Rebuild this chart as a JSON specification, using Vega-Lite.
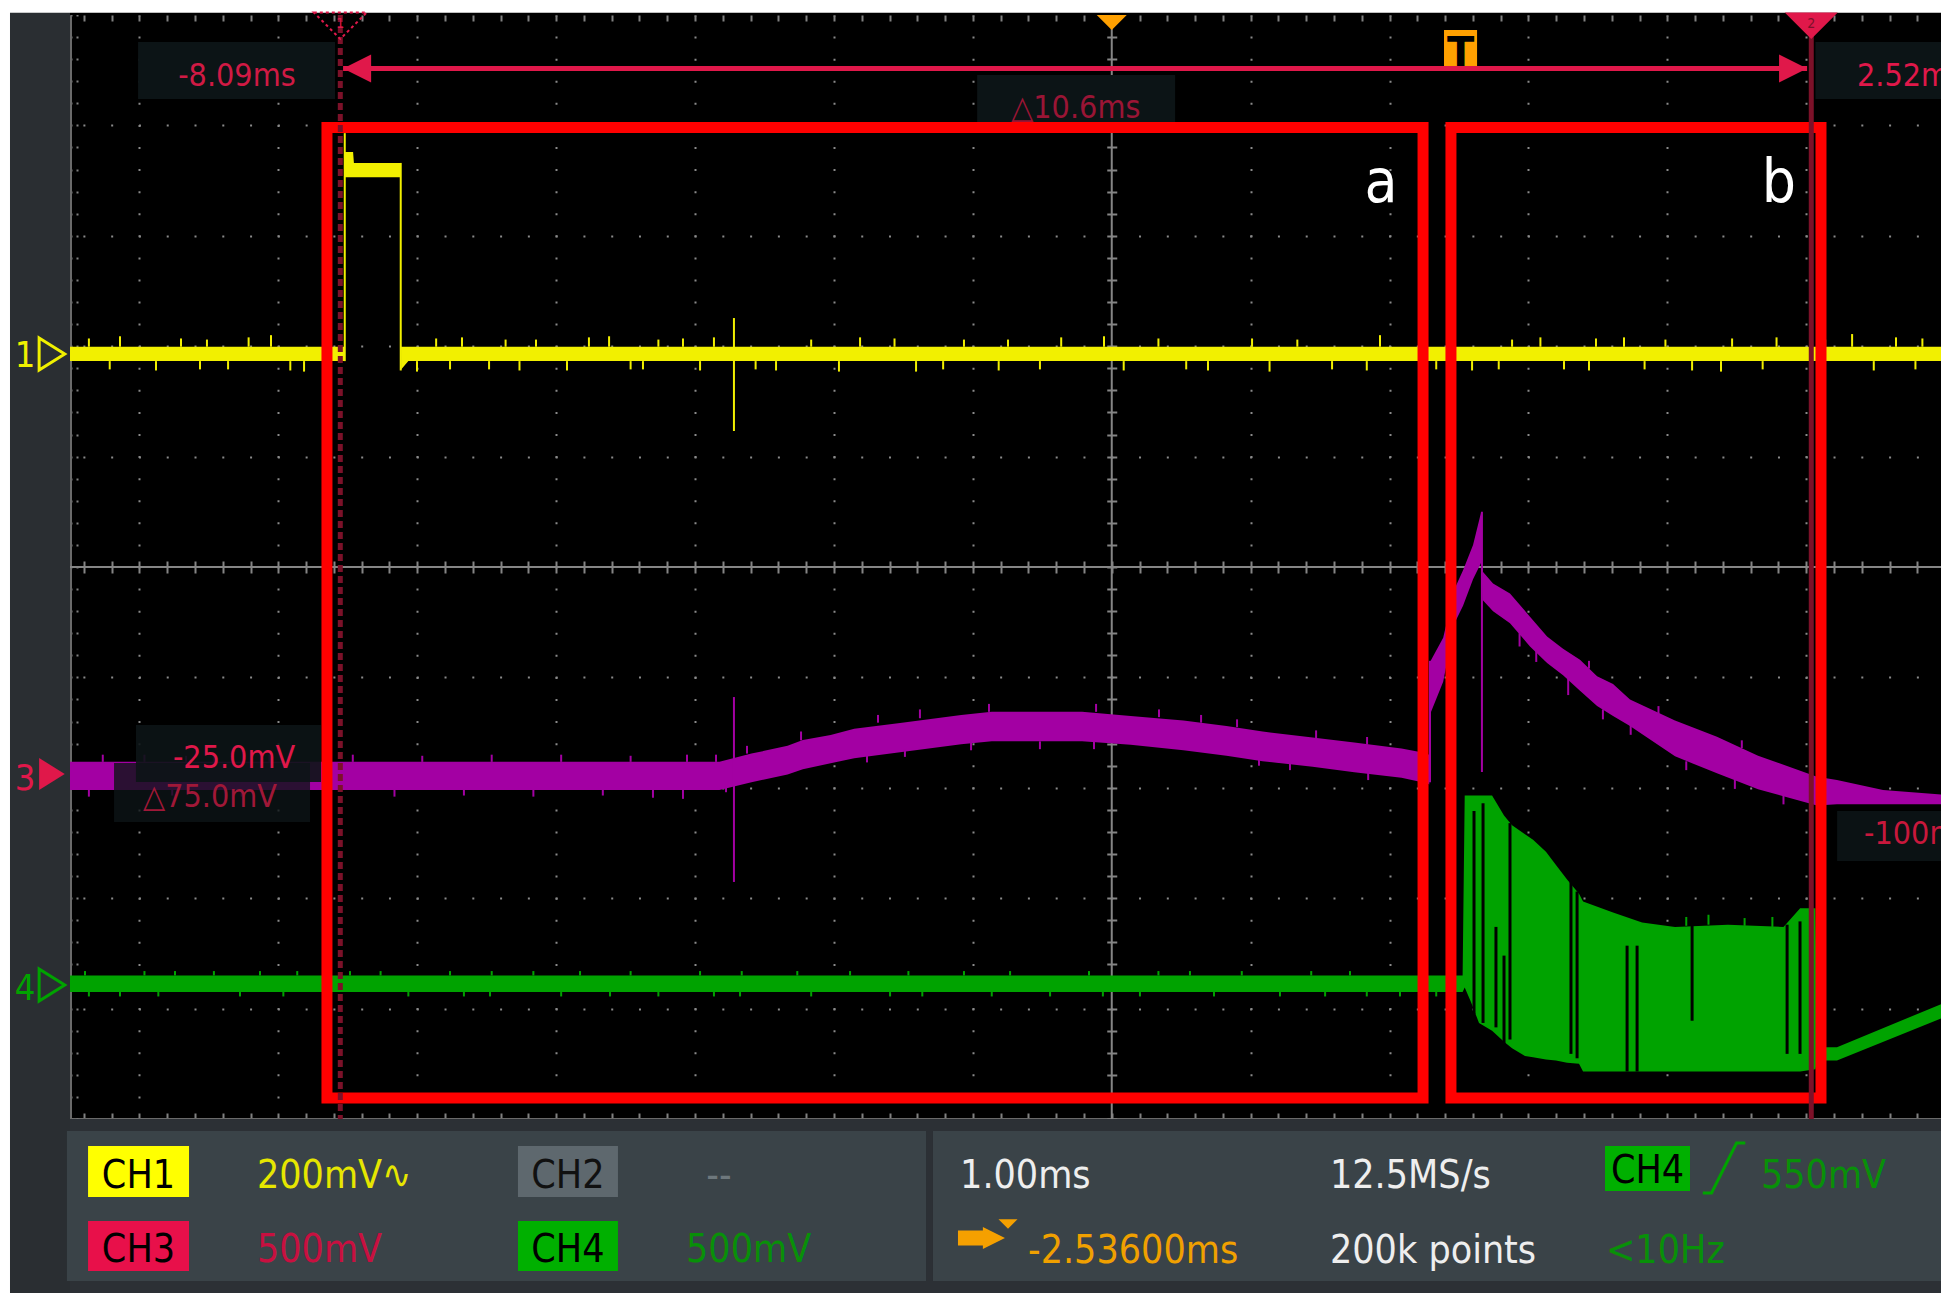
{
"$schema":"https://vega.github.io/schema/vega-lite/v6.json",
"width":1871,"height":1104,
"autosize":{"type":"none"},
"padding":{"left":70,"top":15,"right":0,"bottom":189},
"background":"#ffffff",
"view":{"fill":"#000000","stroke":null},
"config":{"text":{"font":"'DejaVu Sans Condensed', 'Liberation Sans Narrow', sans-serif"}},
"resolve":{"axis":{"x":"independent","y":"independent"}},
"data":{"values":[{}]},
"datasets":{
"env":[
{"ch":"CH1","t":-10.036,"hi":1.995,"lo":1.865},
{"ch":"CH1","t":-8.062,"hi":1.995,"lo":1.865},
{"ch":"CH1","t":-8.056,"hi":3.76,"lo":3.53},
{"ch":"CH1","t":-7.998,"hi":3.76,"lo":3.53},
{"ch":"CH1","t":-7.992,"hi":3.66,"lo":3.53},
{"ch":"CH1","t":-7.658,"hi":3.66,"lo":3.53},
{"ch":"CH1","t":-7.652,"hi":1.995,"lo":1.79},
{"ch":"CH1","t":-7.6,"hi":1.995,"lo":1.865},
{"ch":"CH1","t":3.434,"hi":1.995,"lo":1.865},
{"ch":"CH3","t":-10.036,"hi":-1.765,"lo":-2.02},
{"ch":"CH3","t":-5.36,"hi":-1.765,"lo":-2.02},
{"ch":"CH3","t":-5.13,"hi":-1.69,"lo":-1.95},
{"ch":"CH3","t":-4.87,"hi":-1.62,"lo":-1.88},
{"ch":"CH3","t":-4.76,"hi":-1.566,"lo":-1.833},
{"ch":"CH3","t":-4.56,"hi":-1.521,"lo":-1.778},
{"ch":"CH3","t":-4.39,"hi":-1.466,"lo":-1.733},
{"ch":"CH3","t":-4.06,"hi":-1.412,"lo":-1.679},
{"ch":"CH3","t":-3.62,"hi":-1.34,"lo":-1.605},
{"ch":"CH3","t":-3.4,"hi":-1.312,"lo":-1.579},
{"ch":"CH3","t":-2.75,"hi":-1.312,"lo":-1.579},
{"ch":"CH3","t":-2.4,"hi":-1.35,"lo":-1.61},
{"ch":"CH3","t":-2.02,"hi":-1.39,"lo":-1.66},
{"ch":"CH3","t":-1.71,"hi":-1.44,"lo":-1.71},
{"ch":"CH3","t":-1.45,"hi":-1.49,"lo":-1.76},
{"ch":"CH3","t":-1.09,"hi":-1.545,"lo":-1.81},
{"ch":"CH3","t":-0.79,"hi":-1.59,"lo":-1.86},
{"ch":"CH3","t":-0.45,"hi":-1.645,"lo":-1.91},
{"ch":"CH3","t":-0.26,"hi":-1.69,"lo":-1.96},
{"ch":"CH3","t":-0.25,"hi":-1.71,"lo":-1.97},
{"ch":"CH3","t":-0.24,"hi":-0.85,"lo":-1.32},
{"ch":"CH3","t":-0.15,"hi":-0.64,"lo":-1.04},
{"ch":"CH3","t":-0.065,"hi":-0.19,"lo":-0.50},
{"ch":"CH3","t":-0.007,"hi":-0.03,"lo":-0.35},
{"ch":"CH3","t":0.065,"hi":0.20,"lo":-0.11},
{"ch":"CH3","t":0.124,"hi":0.50,"lo":0.04},
{"ch":"CH3","t":0.134,"hi":-0.04,"lo":-0.30},
{"ch":"CH3","t":0.209,"hi":-0.15,"lo":-0.40},
{"ch":"CH3","t":0.331,"hi":-0.24,"lo":-0.51},
{"ch":"CH3","t":0.475,"hi":-0.45,"lo":-0.72},
{"ch":"CH3","t":0.598,"hi":-0.63,"lo":-0.87},
{"ch":"CH3","t":0.713,"hi":-0.74,"lo":-0.98},
{"ch":"CH3","t":0.835,"hi":-0.84,"lo":-1.12},
{"ch":"CH3","t":0.958,"hi":-0.99,"lo":-1.26},
{"ch":"CH3","t":1.073,"hi":-1.06,"lo":-1.35},
{"ch":"CH3","t":1.195,"hi":-1.20,"lo":-1.44},
{"ch":"CH3","t":1.519,"hi":-1.39,"lo":-1.715},
{"ch":"CH3","t":1.821,"hi":-1.537,"lo":-1.869},
{"ch":"CH3","t":2.117,"hi":-1.709,"lo":-2.014},
{"ch":"CH3","t":2.541,"hi":-1.90,"lo":-2.16},
{"ch":"CH3","t":2.685,"hi":-1.93,"lo":-2.15},
{"ch":"CH3","t":3.017,"hi":-2.02,"lo":-2.15},
{"ch":"CH3","t":3.434,"hi":-2.06,"lo":-2.15},
{"ch":"CH4","t":-10.036,"hi":-3.70,"lo":-3.85},
{"ch":"CH4","t":-0.01,"hi":-3.70,"lo":-3.85},
{"ch":"CH4","t":0.005,"hi":-2.07,"lo":-3.81},
{"ch":"CH4","t":0.05,"hi":-2.07,"lo":-3.94},
{"ch":"CH4","t":0.108,"hi":-2.07,"lo":-4.13},
{"ch":"CH4","t":0.202,"hi":-2.07,"lo":-4.20},
{"ch":"CH4","t":0.288,"hi":-2.25,"lo":-4.30},
{"ch":"CH4","t":0.346,"hi":-2.34,"lo":-4.36},
{"ch":"CH4","t":0.439,"hi":-2.42,"lo":-4.43},
{"ch":"CH4","t":0.497,"hi":-2.47,"lo":-4.44},
{"ch":"CH4","t":0.59,"hi":-2.58,"lo":-4.46},
{"ch":"CH4","t":0.662,"hi":-2.70,"lo":-4.47},
{"ch":"CH4","t":0.742,"hi":-2.83,"lo":-4.49},
{"ch":"CH4","t":0.828,"hi":-2.96,"lo":-4.50},
{"ch":"CH4","t":0.857,"hi":-3.03,"lo":-4.57},
{"ch":"CH4","t":1.073,"hi":-3.13,"lo":-4.57},
{"ch":"CH4","t":1.282,"hi":-3.22,"lo":-4.57},
{"ch":"CH4","t":1.519,"hi":-3.26,"lo":-4.57},
{"ch":"CH4","t":1.9,"hi":-3.24,"lo":-4.57},
{"ch":"CH4","t":2.3,"hi":-3.26,"lo":-4.57},
{"ch":"CH4","t":2.42,"hi":-3.09,"lo":-4.57},
{"ch":"CH4","t":2.53,"hi":-3.09,"lo":-4.55},
{"ch":"CH4","t":2.545,"hi":-4.35,"lo":-4.47},
{"ch":"CH4","t":2.685,"hi":-4.35,"lo":-4.47},
{"ch":"CH4","t":3.434,"hi":-3.96,"lo":-4.09}
],
"spikes":[
{"ch":"CH1","t":-8.058,"a":1.865,"b":3.93},
{"ch":"CH1","t":-7.655,"a":3.66,"b":1.78},
{"ch":"CH1","t":-5.256,"a":2.255,"b":1.232},
{"ch":"CH1","t":-9.9,"a":1.995,"b":2.07},
{"ch":"CH1","t":-9.676,"a":1.995,"b":2.09},
{"ch":"CH1","t":-9.237,"a":1.995,"b":2.07},
{"ch":"CH1","t":-9.05,"a":1.995,"b":2.06},
{"ch":"CH1","t":-8.75,"a":1.995,"b":2.08},
{"ch":"CH1","t":-8.589,"a":1.995,"b":2.10},
{"ch":"CH1","t":-7.4,"a":1.995,"b":2.07},
{"ch":"CH1","t":-7.214,"a":1.995,"b":2.08},
{"ch":"CH1","t":-6.9,"a":1.995,"b":2.06},
{"ch":"CH1","t":-6.681,"a":1.995,"b":2.06},
{"ch":"CH1","t":-6.3,"a":1.995,"b":2.08},
{"ch":"CH1","t":-6.155,"a":1.995,"b":2.09},
{"ch":"CH1","t":-5.8,"a":1.995,"b":2.06},
{"ch":"CH1","t":-5.623,"a":1.995,"b":2.07},
{"ch":"CH1","t":-5.4,"a":1.995,"b":2.08},
{"ch":"CH1","t":-4.7,"a":1.995,"b":2.06},
{"ch":"CH1","t":-4.348,"a":1.995,"b":2.08},
{"ch":"CH1","t":-4.1,"a":1.995,"b":2.07},
{"ch":"CH1","t":-3.6,"a":1.995,"b":2.06},
{"ch":"CH1","t":-3.283,"a":1.995,"b":2.06},
{"ch":"CH1","t":-2.9,"a":1.995,"b":2.08},
{"ch":"CH1","t":-2.592,"a":1.995,"b":2.09},
{"ch":"CH1","t":-2.2,"a":1.995,"b":2.07},
{"ch":"CH1","t":-1.526,"a":1.995,"b":2.07},
{"ch":"CH1","t":-1.2,"a":1.995,"b":2.06},
{"ch":"CH1","t":-0.605,"a":1.995,"b":2.10},
{"ch":"CH1","t":-0.3,"a":1.995,"b":2.07},
{"ch":"CH1","t":0.346,"a":1.995,"b":2.06},
{"ch":"CH1","t":0.55,"a":1.995,"b":2.08},
{"ch":"CH1","t":0.95,"a":1.995,"b":2.07},
{"ch":"CH1","t":1.152,"a":1.995,"b":2.08},
{"ch":"CH1","t":1.45,"a":1.995,"b":2.06},
{"ch":"CH1","t":1.93,"a":1.995,"b":2.07},
{"ch":"CH1","t":2.25,"a":1.995,"b":2.08},
{"ch":"CH1","t":2.6,"a":1.995,"b":2.06},
{"ch":"CH1","t":2.794,"a":1.995,"b":2.11},
{"ch":"CH1","t":3.11,"a":1.995,"b":2.08},
{"ch":"CH1","t":3.3,"a":1.995,"b":2.07},
{"ch":"CH1","t":-9.75,"a":1.865,"b":1.79},
{"ch":"CH1","t":-9.417,"a":1.865,"b":1.78},
{"ch":"CH1","t":-9.1,"a":1.865,"b":1.79},
{"ch":"CH1","t":-8.898,"a":1.865,"b":1.79},
{"ch":"CH1","t":-8.45,"a":1.865,"b":1.78},
{"ch":"CH1","t":-8.351,"a":1.865,"b":1.77},
{"ch":"CH1","t":-7.538,"a":1.865,"b":1.77},
{"ch":"CH1","t":-7.3,"a":1.865,"b":1.79},
{"ch":"CH1","t":-7.019,"a":1.865,"b":1.79},
{"ch":"CH1","t":-6.8,"a":1.865,"b":1.78},
{"ch":"CH1","t":-6.458,"a":1.865,"b":1.78},
{"ch":"CH1","t":-6.0,"a":1.865,"b":1.79},
{"ch":"CH1","t":-5.911,"a":1.865,"b":1.79},
{"ch":"CH1","t":-5.5,"a":1.865,"b":1.78},
{"ch":"CH1","t":-5.1,"a":1.865,"b":1.79},
{"ch":"CH1","t":-4.953,"a":1.865,"b":1.78},
{"ch":"CH1","t":-4.5,"a":1.865,"b":1.77},
{"ch":"CH1","t":-3.945,"a":1.865,"b":1.77},
{"ch":"CH1","t":-3.75,"a":1.865,"b":1.79},
{"ch":"CH1","t":-3.35,"a":1.865,"b":1.78},
{"ch":"CH1","t":-3.053,"a":1.865,"b":1.79},
{"ch":"CH1","t":-2.45,"a":1.865,"b":1.78},
{"ch":"CH1","t":-2.0,"a":1.865,"b":1.79},
{"ch":"CH1","t":-1.843,"a":1.865,"b":1.78},
{"ch":"CH1","t":-1.4,"a":1.865,"b":1.77},
{"ch":"CH1","t":-0.95,"a":1.865,"b":1.79},
{"ch":"CH1","t":-0.7,"a":1.865,"b":1.78},
{"ch":"CH1","t":-0.2,"a":1.865,"b":1.79},
{"ch":"CH1","t":0.058,"a":1.865,"b":1.78},
{"ch":"CH1","t":0.25,"a":1.865,"b":1.79},
{"ch":"CH1","t":0.72,"a":1.865,"b":1.79},
{"ch":"CH1","t":0.9,"a":1.865,"b":1.78},
{"ch":"CH1","t":1.3,"a":1.865,"b":1.79},
{"ch":"CH1","t":1.642,"a":1.865,"b":1.78},
{"ch":"CH1","t":1.85,"a":1.865,"b":1.77},
{"ch":"CH1","t":2.15,"a":1.865,"b":1.79},
{"ch":"CH1","t":2.563,"a":1.865,"b":1.77},
{"ch":"CH1","t":2.95,"a":1.865,"b":1.78},
{"ch":"CH1","t":3.25,"a":1.865,"b":1.79},
{"ch":"CH3","t":-5.256,"a":-1.178,"b":-2.853},
{"ch":"CH3","t":0.129,"a":0.50,"b":-1.857},
{"ch":"CH3","t":-0.245,"a":-1.95,"b":-0.85},
{"ch":"CH3","t":-9.8,"a":-1.765,"b":-1.70},
{"ch":"CH3","t":-9.5,"a":-1.765,"b":-1.70},
{"ch":"CH3","t":-9.2,"a":-1.765,"b":-1.71},
{"ch":"CH3","t":-9.0,"a":-1.765,"b":-1.71},
{"ch":"CH3","t":-8.6,"a":-1.765,"b":-1.70},
{"ch":"CH3","t":-8.0,"a":-1.765,"b":-1.70},
{"ch":"CH3","t":-7.5,"a":-1.765,"b":-1.71},
{"ch":"CH3","t":-7.0,"a":-1.765,"b":-1.70},
{"ch":"CH3","t":-6.5,"a":-1.765,"b":-1.70},
{"ch":"CH3","t":-6.0,"a":-1.765,"b":-1.71},
{"ch":"CH3","t":-5.594,"a":-1.765,"b":-1.70},
{"ch":"CH3","t":-5.385,"a":-1.765,"b":-1.70},
{"ch":"CH3","t":-5.162,"a":-1.69,"b":-1.62},
{"ch":"CH3","t":-4.773,"a":-1.57,"b":-1.49},
{"ch":"CH3","t":-4.219,"a":-1.41,"b":-1.34},
{"ch":"CH3","t":-3.917,"a":-1.37,"b":-1.29},
{"ch":"CH3","t":-3.42,"a":-1.312,"b":-1.24},
{"ch":"CH3","t":-2.649,"a":-1.312,"b":-1.24},
{"ch":"CH3","t":-2.196,"a":-1.36,"b":-1.29},
{"ch":"CH3","t":-1.893,"a":-1.41,"b":-1.34},
{"ch":"CH3","t":-1.634,"a":-1.45,"b":-1.38},
{"ch":"CH3","t":-1.065,"a":-1.55,"b":-1.48},
{"ch":"CH3","t":-0.698,"a":-1.61,"b":-1.54},
{"ch":"CH3","t":-9.9,"a":-2.02,"b":-2.08},
{"ch":"CH3","t":-9.3,"a":-2.02,"b":-2.07},
{"ch":"CH3","t":-8.8,"a":-2.02,"b":-2.08},
{"ch":"CH3","t":-8.2,"a":-2.02,"b":-2.07},
{"ch":"CH3","t":-7.7,"a":-2.02,"b":-2.08},
{"ch":"CH3","t":-7.2,"a":-2.02,"b":-2.07},
{"ch":"CH3","t":-6.7,"a":-2.02,"b":-2.08},
{"ch":"CH3","t":-6.2,"a":-2.02,"b":-2.07},
{"ch":"CH3","t":-5.839,"a":-2.02,"b":-2.09},
{"ch":"CH3","t":-5.623,"a":-2.02,"b":-2.10},
{"ch":"CH3","t":-5.313,"a":-1.977,"b":-2.04},
{"ch":"CH3","t":-4.298,"a":-1.70,"b":-1.77},
{"ch":"CH3","t":-4.025,"a":-1.65,"b":-1.72},
{"ch":"CH3","t":-3.549,"a":-1.59,"b":-1.66},
{"ch":"CH3","t":-3.053,"a":-1.579,"b":-1.65},
{"ch":"CH3","t":-2.664,"a":-1.579,"b":-1.65},
{"ch":"CH3","t":-1.476,"a":-1.73,"b":-1.80},
{"ch":"CH3","t":-1.253,"a":-1.77,"b":-1.84},
{"ch":"CH3","t":-0.69,"a":-1.86,"b":-1.93},
{"ch":"CH3","t":0.4,"a":-0.60,"b":-0.72},
{"ch":"CH3","t":0.52,"a":-0.76,"b":-0.86},
{"ch":"CH3","t":0.75,"a":-0.95,"b":-1.16},
{"ch":"CH3","t":0.9,"a":-0.92,"b":-0.85},
{"ch":"CH3","t":1.0,"a":-1.29,"b":-1.38},
{"ch":"CH3","t":1.2,"a":-1.42,"b":-1.52},
{"ch":"CH3","t":1.4,"a":-1.33,"b":-1.26},
{"ch":"CH3","t":1.6,"a":-1.76,"b":-1.84},
{"ch":"CH3","t":1.95,"a":-1.91,"b":-2.01},
{"ch":"CH3","t":2.0,"a":-1.64,"b":-1.57},
{"ch":"CH3","t":2.3,"a":-2.07,"b":-2.15},
{"ch":"CH4","t":-9.928,"a":-3.70,"b":-3.66},
{"ch":"CH4","t":-9.5,"a":-3.70,"b":-3.66},
{"ch":"CH4","t":-9.28,"a":-3.70,"b":-3.66},
{"ch":"CH4","t":-9.0,"a":-3.70,"b":-3.66},
{"ch":"CH4","t":-8.668,"a":-3.70,"b":-3.66},
{"ch":"CH4","t":-8.4,"a":-3.70,"b":-3.66},
{"ch":"CH4","t":-8.02,"a":-3.70,"b":-3.66},
{"ch":"CH4","t":-7.8,"a":-3.70,"b":-3.66},
{"ch":"CH4","t":-7.3,"a":-3.70,"b":-3.66},
{"ch":"CH4","t":-7.0,"a":-3.70,"b":-3.66},
{"ch":"CH4","t":-6.7,"a":-3.70,"b":-3.66},
{"ch":"CH4","t":-6.364,"a":-3.70,"b":-3.66},
{"ch":"CH4","t":-6.0,"a":-3.70,"b":-3.66},
{"ch":"CH4","t":-5.5,"a":-3.70,"b":-3.66},
{"ch":"CH4","t":-5.2,"a":-3.70,"b":-3.66},
{"ch":"CH4","t":-4.8,"a":-3.70,"b":-3.66},
{"ch":"CH4","t":-4.42,"a":-3.70,"b":-3.66},
{"ch":"CH4","t":-4.0,"a":-3.70,"b":-3.66},
{"ch":"CH4","t":-3.6,"a":-3.70,"b":-3.66},
{"ch":"CH4","t":-3.268,"a":-3.70,"b":-3.66},
{"ch":"CH4","t":-2.7,"a":-3.70,"b":-3.66},
{"ch":"CH4","t":-2.2,"a":-3.70,"b":-3.66},
{"ch":"CH4","t":-1.973,"a":-3.70,"b":-3.66},
{"ch":"CH4","t":-1.6,"a":-3.70,"b":-3.66},
{"ch":"CH4","t":-1.1,"a":-3.70,"b":-3.66},
{"ch":"CH4","t":-0.821,"a":-3.70,"b":-3.66},
{"ch":"CH4","t":-0.3,"a":-3.70,"b":-3.66},
{"ch":"CH4","t":-9.9,"a":-3.85,"b":-3.89},
{"ch":"CH4","t":-9.676,"a":-3.85,"b":-3.89},
{"ch":"CH4","t":-9.4,"a":-3.85,"b":-3.89},
{"ch":"CH4","t":-8.812,"a":-3.85,"b":-3.89},
{"ch":"CH4","t":-8.5,"a":-3.85,"b":-3.89},
{"ch":"CH4","t":-8.164,"a":-3.85,"b":-3.89},
{"ch":"CH4","t":-7.6,"a":-3.85,"b":-3.89},
{"ch":"CH4","t":-7.2,"a":-3.85,"b":-3.89},
{"ch":"CH4","t":-7.012,"a":-3.85,"b":-3.89},
{"ch":"CH4","t":-6.5,"a":-3.85,"b":-3.89},
{"ch":"CH4","t":-6.148,"a":-3.85,"b":-3.89},
{"ch":"CH4","t":-5.8,"a":-3.85,"b":-3.89},
{"ch":"CH4","t":-5.4,"a":-3.85,"b":-3.89},
{"ch":"CH4","t":-5.212,"a":-3.85,"b":-3.89},
{"ch":"CH4","t":-4.7,"a":-3.85,"b":-3.89},
{"ch":"CH4","t":-4.132,"a":-3.85,"b":-3.89},
{"ch":"CH4","t":-3.9,"a":-3.85,"b":-3.89},
{"ch":"CH4","t":-3.4,"a":-3.85,"b":-3.89},
{"ch":"CH4","t":-2.98,"a":-3.85,"b":-3.89},
{"ch":"CH4","t":-2.6,"a":-3.85,"b":-3.89},
{"ch":"CH4","t":-2.333,"a":-3.85,"b":-3.89},
{"ch":"CH4","t":-1.8,"a":-3.85,"b":-3.89},
{"ch":"CH4","t":-1.325,"a":-3.85,"b":-3.89},
{"ch":"CH4","t":-1.0,"a":-3.85,"b":-3.89},
{"ch":"CH4","t":-0.7,"a":-3.85,"b":-3.89},
{"ch":"CH4","t":-0.461,"a":-3.85,"b":-3.89},
{"ch":"CH4","t":-0.2,"a":-3.85,"b":-3.89},
{"ch":"CH4","t":1.6,"a":-3.25,"b":-3.17},
{"ch":"CH4","t":1.76,"a":-3.24,"b":-3.15},
{"ch":"CH4","t":2.02,"a":-3.25,"b":-3.18},
{"ch":"CH4","t":2.22,"a":-3.26,"b":-3.17}
],
"gaps":[
{"t":0.072,"a":-2.21,"b":-4.05},
{"t":0.137,"a":-2.14,"b":-4.13},
{"t":0.23,"a":-3.26,"b":-4.17},
{"t":0.288,"a":-3.52,"b":-4.34},
{"t":0.331,"a":-2.32,"b":-4.28},
{"t":0.77,"a":-2.83,"b":-4.41},
{"t":0.814,"a":-2.94,"b":-4.45},
{"t":1.174,"a":-3.43,"b":-4.57},
{"t":1.246,"a":-3.43,"b":-4.57},
{"t":1.642,"a":-3.24,"b":-4.11},
{"t":2.326,"a":-3.24,"b":-4.41},
{"t":2.419,"a":-3.21,"b":-4.41}
],
"boxes":[
{"label":"a","t0":-8.186,"t1":-0.295,"top":3.981,"bottom":-4.81},
{"label":"b","t0":-0.094,"t1":2.57,"top":3.981,"bottom":-4.81}
],
"cursors":[
{"id":"1","t":-8.09},
{"id":"2","t":2.50}
]
},
"layer":[
{"mark":{"type":"rect","color":"#000000","clip":false},"encoding":{"x":{"datum":-10.036,"type":"quantitative","scale":{"domain":[-10.036,3.434],"nice":false,"zero":false},"axis":null},"x2":{"datum":3.44},"y":{"datum":5.0,"type":"quantitative","scale":{"domain":[-5,5],"nice":false,"zero":false},"axis":null},"y2":{"datum":5.02}}},
{"mark":{"type":"rect","color":"#2a2e32","clip":false},"encoding":{"x":{"datum":-10.468,"type":"quantitative","scale":{"domain":[-10.036,3.434],"nice":false,"zero":false},"axis":null},"x2":{"datum":-10.036},"y":{"datum":5.02,"type":"quantitative","scale":{"domain":[-5,5],"nice":false,"zero":false},"axis":null},"y2":{"datum":-6.576}}},
{"mark":{"type":"rect","color":"#2c3035","clip":false},"encoding":{"x":{"datum":-10.036,"type":"quantitative","scale":{"domain":[-10.036,3.434],"nice":false,"zero":false},"axis":null},"x2":{"datum":3.44},"y":{"datum":-5.0,"type":"quantitative","scale":{"domain":[-5,5],"nice":false,"zero":false},"axis":null},"y2":{"datum":-6.576}}},
{"mark":{"type":"rect","color":"#3a4348","clip":false},"encoding":{"x":{"datum":-10.058,"type":"quantitative","scale":{"domain":[-10.036,3.434],"nice":false,"zero":false},"axis":null},"x2":{"datum":-3.873},"y":{"datum":-5.109,"type":"quantitative","scale":{"domain":[-5,5],"nice":false,"zero":false},"axis":null},"y2":{"datum":-6.467}}},
{"mark":{"type":"rect","color":"#3a4348","clip":false},"encoding":{"x":{"datum":-3.823,"type":"quantitative","scale":{"domain":[-10.036,3.434],"nice":false,"zero":false},"axis":null},"x2":{"datum":3.44},"y":{"datum":-5.109,"type":"quantitative","scale":{"domain":[-5,5],"nice":false,"zero":false},"axis":null},"y2":{"datum":-6.467}}},
{"mark":{"type":"rule","color":"#858585","strokeWidth":2},"encoding":{"x":{"datum":-2.536,"type":"quantitative","scale":{"domain":[-10.036,3.434],"nice":false,"zero":false},"axis":{"orient":"bottom","offset":-558,"values":[-9.936,-9.736,-9.536,-9.336,-9.136,-8.936,-8.736,-8.536,-8.336,-8.136,-7.936,-7.736,-7.536,-7.336,-7.136,-6.936,-6.736,-6.536,-6.336,-6.136,-5.936,-5.736,-5.536,-5.336,-5.136,-4.936,-4.736,-4.536,-4.336,-4.136,-3.936,-3.736,-3.536,-3.336,-3.136,-2.936,-2.736,-2.536,-2.336,-2.136,-1.936,-1.736,-1.536,-1.336,-1.136,-0.936,-0.736,-0.536,-0.336,-0.136,0.064,0.264,0.464,0.664,0.864,1.064,1.264,1.464,1.664,1.864,2.064,2.264,2.464,2.664,2.864,3.064,3.264],"domain":false,"grid":false,"labels":false,"ticks":true,"tickSize":12,"tickColor":"#858585","tickWidth":2,"title":null}}}},
{"mark":{"type":"rule","color":"#858585","strokeWidth":2},"encoding":{"y":{"datum":0,"type":"quantitative","scale":{"domain":[-5,5],"nice":false,"zero":false},"axis":{"orient":"left","offset":-1046.75,"values":[-5,-4.8,-4.6,-4.4,-4.2,-4,-3.8,-3.6,-3.4,-3.2,-3,-2.8,-2.6,-2.4,-2.2,-2,-1.8,-1.6,-1.4,-1.2,-1,-0.8,-0.6,-0.4,-0.2,0,0.2,0.4,0.6,0.8,1,1.2,1.4,1.6,1.8,2,2.2,2.4,2.6,2.8,3,3.2,3.4,3.6,3.8,4,4.2,4.4,4.6,4.8,5],"domain":false,"grid":false,"labels":false,"ticks":true,"tickSize":10,"tickColor":"#858585","tickWidth":2,"title":null}}}},
{"data":{"name":"env"},"mark":{"type":"area","interpolate":"linear","opacity":1},"encoding":{
"x":{"field":"t","type":"quantitative","scale":{"domain":[-10.036,3.434],"nice":false,"zero":false},"axis":{"orient":"bottom","values":[-9.536,-8.536,-7.536,-6.536,-5.536,-4.536,-3.536,-1.536,-0.536,0.464,1.464,2.464],"grid":true,"gridColor":"#8a8a8a","gridWidth":2,"gridDash":[2,20.08],"gridDashOffset":1,"domain":false,"ticks":false,"labels":false,"title":null}},
"y":{"field":"hi","type":"quantitative","stack":null,"scale":{"domain":[-5,5],"nice":false,"zero":false},"axis":{"orient":"left","values":[-4,-3,-2,-1,1,2,3,4],"grid":true,"gridColor":"#8a8a8a","gridWidth":2,"gridDash":[2,25.78],"gridDashOffset":14.89,"domain":false,"ticks":false,"labels":false,"title":null}},
"y2":{"field":"lo"},
"color":{"field":"ch","type":"nominal","scale":{"domain":["CH1","CH3","CH4"],"range":["#f2f000","#a300a3","#00a300"]},"legend":null}}},
{"data":{"name":"spikes"},"mark":{"type":"rule","strokeWidth":2},"encoding":{
"x":{"field":"t","type":"quantitative","scale":{"domain":[-10.036,3.434],"nice":false,"zero":false},"axis":{"orient":"top","values":[-9.936,-9.736,-9.536,-9.336,-9.136,-8.936,-8.736,-8.536,-8.336,-8.136,-7.936,-7.736,-7.536,-7.336,-7.136,-6.936,-6.736,-6.536,-6.336,-6.136,-5.936,-5.736,-5.536,-5.336,-5.136,-4.936,-4.736,-4.536,-4.336,-4.136,-3.936,-3.736,-3.536,-3.336,-3.136,-2.936,-2.736,-2.536,-2.336,-2.136,-1.936,-1.736,-1.536,-1.336,-1.136,-0.936,-0.736,-0.536,-0.336,-0.136,0.064,0.264,0.464,0.664,0.864,1.064,1.264,1.464,1.664,1.864,2.064,2.264,2.464,2.664,2.864,3.064,3.264],"domain":false,"grid":false,"labels":false,"ticks":true,"tickSize":-6,"tickColor":"#808080","tickWidth":2,"title":null}},
"y":{"field":"a","type":"quantitative","scale":{"domain":[-5,5],"nice":false,"zero":false},"axis":{"orient":"left","values":[-5,-4.8,-4.6,-4.4,-4.2,-4,-3.8,-3.6,-3.4,-3.2,-3,-2.8,-2.6,-2.4,-2.2,-2,-1.8,-1.6,-1.4,-1.2,-1,-0.8,-0.6,-0.4,-0.2,0,0.2,0.4,0.6,0.8,1,1.2,1.4,1.6,1.8,2,2.2,2.4,2.6,2.8,3,3.2,3.4,3.6,3.8,4,4.2,4.4,4.6,4.8,5],"domain":true,"domainColor":"#6a6a6a","domainWidth":3,"grid":false,"labels":false,"ticks":true,"tickSize":-12,"tickColor":"#808080","tickWidth":2,"tickDash":[2,4],"title":null}},
"y2":{"field":"b"},
"color":{"field":"ch","type":"nominal","scale":{"domain":["CH1","CH3","CH4"],"range":["#f2f000","#a300a3","#00a300"]},"legend":null}}},
{"data":{"name":"gaps"},"mark":{"type":"rule","strokeWidth":3,"color":"#000000"},"encoding":{
"x":{"field":"t","type":"quantitative","scale":{"domain":[-10.036,3.434],"nice":false,"zero":false},"axis":{"orient":"bottom","values":[-9.936,-9.736,-9.536,-9.336,-9.136,-8.936,-8.736,-8.536,-8.336,-8.136,-7.936,-7.736,-7.536,-7.336,-7.136,-6.936,-6.736,-6.536,-6.336,-6.136,-5.936,-5.736,-5.536,-5.336,-5.136,-4.936,-4.736,-4.536,-4.336,-4.136,-3.936,-3.736,-3.536,-3.336,-3.136,-2.936,-2.736,-2.536,-2.336,-2.136,-1.936,-1.736,-1.536,-1.336,-1.136,-0.936,-0.736,-0.536,-0.336,-0.136,0.064,0.264,0.464,0.664,0.864,1.064,1.264,1.464,1.664,1.864,2.064,2.264,2.464,2.664,2.864,3.064,3.264],"domain":true,"domainColor":"#6a6a6a","domainWidth":3,"grid":false,"labels":false,"ticks":true,"tickSize":-6,"tickColor":"#808080","tickWidth":2,"title":null}},
"y":{"field":"a","type":"quantitative","scale":{"domain":[-5,5],"nice":false,"zero":false},"axis":null},
"y2":{"field":"b"}}},
{"data":{"name":"boxes"},"mark":{"type":"rect","fill":"transparent","stroke":"#ff0000","strokeWidth":11},"encoding":{
"x":{"field":"t0","type":"quantitative","scale":{"domain":[-10.036,3.434],"nice":false,"zero":false},"axis":null},"x2":{"field":"t1"},
"y":{"field":"top","type":"quantitative","scale":{"domain":[-5,5],"nice":false,"zero":false},"axis":null},"y2":{"field":"bottom"}}},
{"data":{"name":"boxes"},"mark":{"type":"text","color":"#ffffff","fontSize":60,"align":"center","baseline":"alphabetic","dx":-42,"dy":74.5},"encoding":{
"x":{"field":"t1","type":"quantitative","scale":{"domain":[-10.036,3.434],"nice":false,"zero":false},"axis":null},
"y":{"field":"top","type":"quantitative","scale":{"domain":[-5,5],"nice":false,"zero":false},"axis":null},
"text":{"field":"label"}}},
{"data":{"name":"cursors"},"mark":{"type":"rule","color":"#7c1129","strokeWidth":5},"encoding":{
"x":{"field":"t","type":"quantitative","scale":{"domain":[-10.036,3.434],"nice":false,"zero":false},"axis":null},
"strokeDash":{"field":"id","type":"nominal","scale":{"domain":["1","2"],"range":[[7,4],[1,0]]},"legend":null}}},
{"mark":{"type":"rect","color":"#0c1416"},"encoding":{"x":{"datum":-9.546,"type":"quantitative","scale":{"domain":[-10.036,3.434],"nice":false,"zero":false},"axis":null},"x2":{"datum":-8.128},"y":{"datum":4.755,"type":"quantitative","scale":{"domain":[-5,5],"nice":false,"zero":false},"axis":null},"y2":{"datum":4.239}}},
{"mark":{"type":"rect","color":"#0c1416"},"encoding":{"x":{"datum":-3.505,"type":"quantitative","scale":{"domain":[-10.036,3.434],"nice":false,"zero":false},"axis":null},"x2":{"datum":-2.08},"y":{"datum":4.457,"type":"quantitative","scale":{"domain":[-5,5],"nice":false,"zero":false},"axis":null},"y2":{"datum":4.031}}},
{"mark":{"type":"rect","color":"#0c1416"},"encoding":{"x":{"datum":2.53,"type":"quantitative","scale":{"domain":[-10.036,3.434],"nice":false,"zero":false},"axis":null},"x2":{"datum":3.44},"y":{"datum":4.755,"type":"quantitative","scale":{"domain":[-5,5],"nice":false,"zero":false},"axis":null},"y2":{"datum":4.239}}},
{"mark":{"type":"rect","color":"#0c1416","opacity":0.8},"encoding":{"x":{"datum":-9.719,"type":"quantitative","scale":{"domain":[-10.036,3.434],"nice":false,"zero":false},"axis":null},"x2":{"datum":-8.308},"y":{"datum":-1.775,"type":"quantitative","scale":{"domain":[-5,5],"nice":false,"zero":false},"axis":null},"y2":{"datum":-2.31}}},
{"mark":{"type":"rect","color":"#0c1416","opacity":0.9},"encoding":{"x":{"datum":-9.561,"type":"quantitative","scale":{"domain":[-10.036,3.434],"nice":false,"zero":false},"axis":null},"x2":{"datum":-8.229},"y":{"datum":-1.431,"type":"quantitative","scale":{"domain":[-5,5],"nice":false,"zero":false},"axis":null},"y2":{"datum":-1.947}}},
{"mark":{"type":"rect","color":"#0c1416","opacity":0.9},"encoding":{"x":{"datum":2.686,"type":"quantitative","scale":{"domain":[-10.036,3.434],"nice":false,"zero":false},"axis":null},"x2":{"datum":3.44},"y":{"datum":-2.21,"type":"quantitative","scale":{"domain":[-5,5],"nice":false,"zero":false},"axis":null},"y2":{"datum":-2.663}}},
{"mark":{"type":"text","text":"-8.09ms","color":"#d01a44","fontSize":32,"align":"center","baseline":"alphabetic"},"encoding":{"x":{"datum":-8.834,"type":"quantitative","scale":{"domain":[-10.036,3.434],"nice":false,"zero":false},"axis":null},"y":{"datum":4.357,"type":"quantitative","scale":{"domain":[-5,5],"nice":false,"zero":false},"axis":null}}},
{"mark":{"type":"text","text":"△10.6ms","color":"#9a1535","fontSize":32,"align":"center","baseline":"alphabetic"},"encoding":{"x":{"datum":-2.795,"type":"quantitative","scale":{"domain":[-10.036,3.434],"nice":false,"zero":false},"axis":null},"y":{"datum":4.067,"type":"quantitative","scale":{"domain":[-5,5],"nice":false,"zero":false},"axis":null}}},
{"mark":{"type":"text","text":"2.52ms","color":"#e0184a","fontSize":32,"align":"left","baseline":"alphabetic"},"encoding":{"x":{"datum":2.829,"type":"quantitative","scale":{"domain":[-10.036,3.434],"nice":false,"zero":false},"axis":null},"y":{"datum":4.357,"type":"quantitative","scale":{"domain":[-5,5],"nice":false,"zero":false},"axis":null}}},
{"mark":{"type":"text","text":"-25.0mV","color":"#e0184a","fontSize":32,"align":"center","baseline":"alphabetic"},"encoding":{"x":{"datum":-8.855,"type":"quantitative","scale":{"domain":[-10.036,3.434],"nice":false,"zero":false},"axis":null},"y":{"datum":-1.821,"type":"quantitative","scale":{"domain":[-5,5],"nice":false,"zero":false},"axis":null}}},
{"mark":{"type":"text","text":"△75.0mV","color":"#a01838","fontSize":32,"align":"center","baseline":"alphabetic"},"encoding":{"x":{"datum":-9.028,"type":"quantitative","scale":{"domain":[-10.036,3.434],"nice":false,"zero":false},"axis":null},"y":{"datum":-2.174,"type":"quantitative","scale":{"domain":[-5,5],"nice":false,"zero":false},"axis":null}}},
{"mark":{"type":"text","text":"-100mV","color":"#c8183c","fontSize":32,"align":"left","baseline":"alphabetic"},"encoding":{"x":{"datum":2.88,"type":"quantitative","scale":{"domain":[-10.036,3.434],"nice":false,"zero":false},"axis":null},"y":{"datum":-2.509,"type":"quantitative","scale":{"domain":[-5,5],"nice":false,"zero":false},"axis":null}}},
{"mark":{"type":"rect","color":"#ffa000"},"encoding":{"x":{"datum":-0.144,"type":"quantitative","scale":{"domain":[-10.036,3.434],"nice":false,"zero":false},"axis":null},"x2":{"datum":0.094},"y":{"datum":4.864,"type":"quantitative","scale":{"domain":[-5,5],"nice":false,"zero":false},"axis":null},"y2":{"datum":4.529}}},
{"mark":{"type":"text","text":"T","color":"#000000","fontSize":40,"fontWeight":"bold","font":"DejaVu Sans","align":"center","baseline":"alphabetic"},"encoding":{"x":{"datum":-0.025,"type":"quantitative","scale":{"domain":[-10.036,3.434],"nice":false,"zero":false},"axis":null},"y":{"datum":4.535,"type":"quantitative","scale":{"domain":[-5,5],"nice":false,"zero":false},"axis":null}}},
{"mark":{"type":"rule","color":"#e0184a","strokeWidth":5},"encoding":{"x":{"datum":-8.07,"type":"quantitative","scale":{"domain":[-10.036,3.434],"nice":false,"zero":false},"axis":null},"x2":{"datum":2.47},"y":{"datum":4.515,"type":"quantitative","scale":{"domain":[-5,5],"nice":false,"zero":false},"axis":null}}},
{"mark":{"type":"point","shape":"M-1,0L1,-1L1,1Z","size":784,"filled":true,"color":"#e0184a","opacity":1},"encoding":{"x":{"datum":-7.969,"type":"quantitative","scale":{"domain":[-10.036,3.434],"nice":false,"zero":false},"axis":null},"y":{"datum":4.515,"type":"quantitative","scale":{"domain":[-5,5],"nice":false,"zero":false},"axis":null}}},
{"mark":{"type":"point","shape":"M1,0L-1,-1L-1,1Z","size":784,"filled":true,"color":"#e0184a","opacity":1},"encoding":{"x":{"datum":2.369,"type":"quantitative","scale":{"domain":[-10.036,3.434],"nice":false,"zero":false},"axis":null},"y":{"datum":4.515,"type":"quantitative","scale":{"domain":[-5,5],"nice":false,"zero":false},"axis":null}}},
{"mark":{"type":"point","shape":"M-1,-1L1,-1L0,0Z","size":2809,"filled":false,"color":"#e0184a","strokeWidth":2,"strokeDash":[3,3],"opacity":1},"encoding":{"x":{"datum":-8.09,"type":"quantitative","scale":{"domain":[-10.036,3.434],"nice":false,"zero":false},"axis":null},"y":{"datum":4.783,"type":"quantitative","scale":{"domain":[-5,5],"nice":false,"zero":false},"axis":null}}},
{"mark":{"type":"text","text":"1","color":"#e0184a","fontSize":14,"align":"center","baseline":"middle"},"encoding":{"x":{"datum":-8.09,"type":"quantitative","scale":{"domain":[-10.036,3.434],"nice":false,"zero":false},"axis":null},"y":{"datum":4.92,"type":"quantitative","scale":{"domain":[-5,5],"nice":false,"zero":false},"axis":null}}},
{"mark":{"type":"point","shape":"M-1,-1L1,-1L0,0Z","size":2809,"filled":true,"color":"#e0184a","opacity":1},"encoding":{"x":{"datum":2.50,"type":"quantitative","scale":{"domain":[-10.036,3.434],"nice":false,"zero":false},"axis":null},"y":{"datum":4.783,"type":"quantitative","scale":{"domain":[-5,5],"nice":false,"zero":false},"axis":null}}},
{"mark":{"type":"text","text":"2","color":"#7c1129","fontSize":14,"align":"center","baseline":"middle"},"encoding":{"x":{"datum":2.50,"type":"quantitative","scale":{"domain":[-10.036,3.434],"nice":false,"zero":false},"axis":null},"y":{"datum":4.92,"type":"quantitative","scale":{"domain":[-5,5],"nice":false,"zero":false},"axis":null}}},
{"mark":{"type":"point","shape":"M-1,-1L1,-1L0,0Z","size":900,"filled":true,"color":"#ffa000","opacity":1},"encoding":{"x":{"datum":-2.536,"type":"quantitative","scale":{"domain":[-10.036,3.434],"nice":false,"zero":false},"axis":null},"y":{"datum":4.864,"type":"quantitative","scale":{"domain":[-5,5],"nice":false,"zero":false},"axis":null}}},
{"mark":{"type":"text","text":"1","color":"#f0f000","fontSize":36,"align":"center","baseline":"alphabetic","clip":false},"encoding":{"x":{"datum":-10.36,"type":"quantitative","scale":{"domain":[-10.036,3.434],"nice":false,"zero":false},"axis":null},"y":{"datum":1.812,"type":"quantitative","scale":{"domain":[-5,5],"nice":false,"zero":false},"axis":null}}},
{"mark":{"type":"point","shape":"M-0.8,-1L0.8,0L-0.8,1Z","size":1024,"filled":false,"color":"#f0f000","strokeWidth":3,"opacity":1,"clip":false},"encoding":{"x":{"datum":-10.166,"type":"quantitative","scale":{"domain":[-10.036,3.434],"nice":false,"zero":false},"axis":null},"y":{"datum":1.929,"type":"quantitative","scale":{"domain":[-5,5],"nice":false,"zero":false},"axis":null}}},
{"mark":{"type":"text","text":"3","color":"#e0184a","fontSize":36,"align":"center","baseline":"alphabetic","clip":false},"encoding":{"x":{"datum":-10.36,"type":"quantitative","scale":{"domain":[-10.036,3.434],"nice":false,"zero":false},"axis":null},"y":{"datum":-2.02,"type":"quantitative","scale":{"domain":[-5,5],"nice":false,"zero":false},"axis":null}}},
{"mark":{"type":"point","shape":"M-0.8,-1L0.8,0L-0.8,1Z","size":1024,"filled":true,"color":"#e0184a","opacity":1,"clip":false},"encoding":{"x":{"datum":-10.166,"type":"quantitative","scale":{"domain":[-10.036,3.434],"nice":false,"zero":false},"axis":null},"y":{"datum":-1.875,"type":"quantitative","scale":{"domain":[-5,5],"nice":false,"zero":false},"axis":null}}},
{"mark":{"type":"text","text":"4","color":"#00a300","fontSize":36,"align":"center","baseline":"alphabetic","clip":false},"encoding":{"x":{"datum":-10.36,"type":"quantitative","scale":{"domain":[-10.036,3.434],"nice":false,"zero":false},"axis":null},"y":{"datum":-3.922,"type":"quantitative","scale":{"domain":[-5,5],"nice":false,"zero":false},"axis":null}}},
{"mark":{"type":"point","shape":"M-0.8,-1L0.8,0L-0.8,1Z","size":1024,"filled":false,"color":"#00a300","strokeWidth":3,"opacity":1,"clip":false},"encoding":{"x":{"datum":-10.166,"type":"quantitative","scale":{"domain":[-10.036,3.434],"nice":false,"zero":false},"axis":null},"y":{"datum":-3.786,"type":"quantitative","scale":{"domain":[-5,5],"nice":false,"zero":false},"axis":null}}},
{"mark":{"type":"rect","color":"#ffff00","clip":false},"encoding":{"x":{"datum":-9.906,"type":"quantitative","scale":{"domain":[-10.036,3.434],"nice":false,"zero":false},"axis":null},"x2":{"datum":-9.179},"y":{"datum":-5.245,"type":"quantitative","scale":{"domain":[-5,5],"nice":false,"zero":false},"axis":null},"y2":{"datum":-5.707}}},
{"mark":{"type":"rect","color":"#e8104a","clip":false},"encoding":{"x":{"datum":-9.906,"type":"quantitative","scale":{"domain":[-10.036,3.434],"nice":false,"zero":false},"axis":null},"x2":{"datum":-9.179},"y":{"datum":-5.924,"type":"quantitative","scale":{"domain":[-5,5],"nice":false,"zero":false},"axis":null},"y2":{"datum":-6.377}}},
{"mark":{"type":"rect","color":"#5e686e","clip":false},"encoding":{"x":{"datum":-6.811,"type":"quantitative","scale":{"domain":[-10.036,3.434],"nice":false,"zero":false},"axis":null},"x2":{"datum":-6.091},"y":{"datum":-5.245,"type":"quantitative","scale":{"domain":[-5,5],"nice":false,"zero":false},"axis":null},"y2":{"datum":-5.707}}},
{"mark":{"type":"rect","color":"#00b000","clip":false},"encoding":{"x":{"datum":-6.811,"type":"quantitative","scale":{"domain":[-10.036,3.434],"nice":false,"zero":false},"axis":null},"x2":{"datum":-6.091},"y":{"datum":-5.924,"type":"quantitative","scale":{"domain":[-5,5],"nice":false,"zero":false},"axis":null},"y2":{"datum":-6.377}}},
{"mark":{"type":"rect","color":"#00b000","clip":false},"encoding":{"x":{"datum":1.015,"type":"quantitative","scale":{"domain":[-10.036,3.434],"nice":false,"zero":false},"axis":null},"x2":{"datum":1.627},"y":{"datum":-5.245,"type":"quantitative","scale":{"domain":[-5,5],"nice":false,"zero":false},"axis":null},"y2":{"datum":-5.652}}},
{"mark":{"type":"text","text":"CH1","color":"#000000","fontSize":39,"align":"center","baseline":"alphabetic","clip":false},"encoding":{"x":{"datum":-9.543,"type":"quantitative","scale":{"domain":[-10.036,3.434],"nice":false,"zero":false},"axis":null},"y":{"datum":-5.625,"type":"quantitative","scale":{"domain":[-5,5],"nice":false,"zero":false},"axis":null}}},
{"mark":{"type":"text","text":"CH3","color":"#000000","fontSize":39,"align":"center","baseline":"alphabetic","clip":false},"encoding":{"x":{"datum":-9.543,"type":"quantitative","scale":{"domain":[-10.036,3.434],"nice":false,"zero":false},"axis":null},"y":{"datum":-6.295,"type":"quantitative","scale":{"domain":[-5,5],"nice":false,"zero":false},"axis":null}}},
{"mark":{"type":"text","text":"CH2","color":"#111111","fontSize":39,"align":"center","baseline":"alphabetic","clip":false},"encoding":{"x":{"datum":-6.451,"type":"quantitative","scale":{"domain":[-10.036,3.434],"nice":false,"zero":false},"axis":null},"y":{"datum":-5.625,"type":"quantitative","scale":{"domain":[-5,5],"nice":false,"zero":false},"axis":null}}},
{"mark":{"type":"text","text":"CH4","color":"#000000","fontSize":39,"align":"center","baseline":"alphabetic","clip":false},"encoding":{"x":{"datum":-6.451,"type":"quantitative","scale":{"domain":[-10.036,3.434],"nice":false,"zero":false},"axis":null},"y":{"datum":-6.295,"type":"quantitative","scale":{"domain":[-5,5],"nice":false,"zero":false},"axis":null}}},
{"mark":{"type":"text","text":"CH4","color":"#000000","fontSize":39,"align":"center","baseline":"alphabetic","clip":false},"encoding":{"x":{"datum":1.321,"type":"quantitative","scale":{"domain":[-10.036,3.434],"nice":false,"zero":false},"axis":null},"y":{"datum":-5.58,"type":"quantitative","scale":{"domain":[-5,5],"nice":false,"zero":false},"axis":null}}},
{"mark":{"type":"text","text":"200mV∿","color":"#e6e600","fontSize":39,"align":"left","baseline":"alphabetic","clip":false},"encoding":{"x":{"datum":-8.69,"type":"quantitative","scale":{"domain":[-10.036,3.434],"nice":false,"zero":false},"axis":null},"y":{"datum":-5.625,"type":"quantitative","scale":{"domain":[-5,5],"nice":false,"zero":false},"axis":null}}},
{"mark":{"type":"text","text":"--","color":"#6e787d","fontSize":39,"align":"center","baseline":"alphabetic","clip":false},"encoding":{"x":{"datum":-5.364,"type":"quantitative","scale":{"domain":[-10.036,3.434],"nice":false,"zero":false},"axis":null},"y":{"datum":-5.625,"type":"quantitative","scale":{"domain":[-5,5],"nice":false,"zero":false},"axis":null}}},
{"mark":{"type":"text","text":"500mV","color":"#c81040","fontSize":39,"align":"left","baseline":"alphabetic","clip":false},"encoding":{"x":{"datum":-8.69,"type":"quantitative","scale":{"domain":[-10.036,3.434],"nice":false,"zero":false},"axis":null},"y":{"datum":-6.295,"type":"quantitative","scale":{"domain":[-5,5],"nice":false,"zero":false},"axis":null}}},
{"mark":{"type":"text","text":"500mV","color":"#089008","fontSize":39,"align":"left","baseline":"alphabetic","clip":false},"encoding":{"x":{"datum":-5.601,"type":"quantitative","scale":{"domain":[-10.036,3.434],"nice":false,"zero":false},"axis":null},"y":{"datum":-6.295,"type":"quantitative","scale":{"domain":[-5,5],"nice":false,"zero":false},"axis":null}}},
{"mark":{"type":"text","text":"1.00ms","color":"#eeeeee","fontSize":39,"align":"left","baseline":"alphabetic","clip":false},"encoding":{"x":{"datum":-3.628,"type":"quantitative","scale":{"domain":[-10.036,3.434],"nice":false,"zero":false},"axis":null},"y":{"datum":-5.625,"type":"quantitative","scale":{"domain":[-5,5],"nice":false,"zero":false},"axis":null}}},
{"mark":{"type":"text","text":"12.5MS/s","color":"#eeeeee","fontSize":39,"align":"left","baseline":"alphabetic","clip":false},"encoding":{"x":{"datum":-0.965,"type":"quantitative","scale":{"domain":[-10.036,3.434],"nice":false,"zero":false},"axis":null},"y":{"datum":-5.625,"type":"quantitative","scale":{"domain":[-5,5],"nice":false,"zero":false},"axis":null}}},
{"mark":{"type":"point","shape":"M-0.85,1L-0.5,1L0.5,-1L0.85,-1","size":2500,"filled":false,"color":"#00a300","strokeWidth":3,"opacity":1,"clip":false},"encoding":{"x":{"datum":1.872,"type":"quantitative","scale":{"domain":[-10.036,3.434],"nice":false,"zero":false},"axis":null},"y":{"datum":-5.444,"type":"quantitative","scale":{"domain":[-5,5],"nice":false,"zero":false},"axis":null}}},
{"mark":{"type":"text","text":"550mV","color":"#089008","fontSize":39,"align":"left","baseline":"alphabetic","clip":false},"encoding":{"x":{"datum":2.138,"type":"quantitative","scale":{"domain":[-10.036,3.434],"nice":false,"zero":false},"axis":null},"y":{"datum":-5.625,"type":"quantitative","scale":{"domain":[-5,5],"nice":false,"zero":false},"axis":null}}},
{"mark":{"type":"point","shape":"M-1,-0.32L0.06,-0.32L0.06,-0.47L1,0L0.06,0.47L0.06,0.32L-1,0.32Z","size":2209,"filled":true,"color":"#f5a000","opacity":1,"clip":false},"encoding":{"x":{"datum":-3.474,"type":"quantitative","scale":{"domain":[-10.036,3.434],"nice":false,"zero":false},"axis":null},"y":{"datum":-6.078,"type":"quantitative","scale":{"domain":[-5,5],"nice":false,"zero":false},"axis":null}}},
{"mark":{"type":"point","shape":"M-1,-0.5L1,-0.5L0,0.5Z","size":361,"filled":true,"color":"#f5a000","opacity":1,"clip":false},"encoding":{"x":{"datum":-3.283,"type":"quantitative","scale":{"domain":[-10.036,3.434],"nice":false,"zero":false},"axis":null},"y":{"datum":-5.951,"type":"quantitative","scale":{"domain":[-5,5],"nice":false,"zero":false},"axis":null}}},
{"mark":{"type":"text","text":"-2.53600ms","color":"#f0a000","fontSize":39,"align":"left","baseline":"alphabetic","clip":false},"encoding":{"x":{"datum":-3.139,"type":"quantitative","scale":{"domain":[-10.036,3.434],"nice":false,"zero":false},"axis":null},"y":{"datum":-6.304,"type":"quantitative","scale":{"domain":[-5,5],"nice":false,"zero":false},"axis":null}}},
{"mark":{"type":"text","text":"200k points","color":"#eeeeee","fontSize":39,"align":"left","baseline":"alphabetic","clip":false},"encoding":{"x":{"datum":-0.965,"type":"quantitative","scale":{"domain":[-10.036,3.434],"nice":false,"zero":false},"axis":null},"y":{"datum":-6.304,"type":"quantitative","scale":{"domain":[-5,5],"nice":false,"zero":false},"axis":null}}},
{"mark":{"type":"text","text":"<10Hz","color":"#089008","fontSize":39,"align":"left","baseline":"alphabetic","clip":false},"encoding":{"x":{"datum":1.022,"type":"quantitative","scale":{"domain":[-10.036,3.434],"nice":false,"zero":false},"axis":null},"y":{"datum":-6.304,"type":"quantitative","scale":{"domain":[-5,5],"nice":false,"zero":false},"axis":null}}}
]
}
